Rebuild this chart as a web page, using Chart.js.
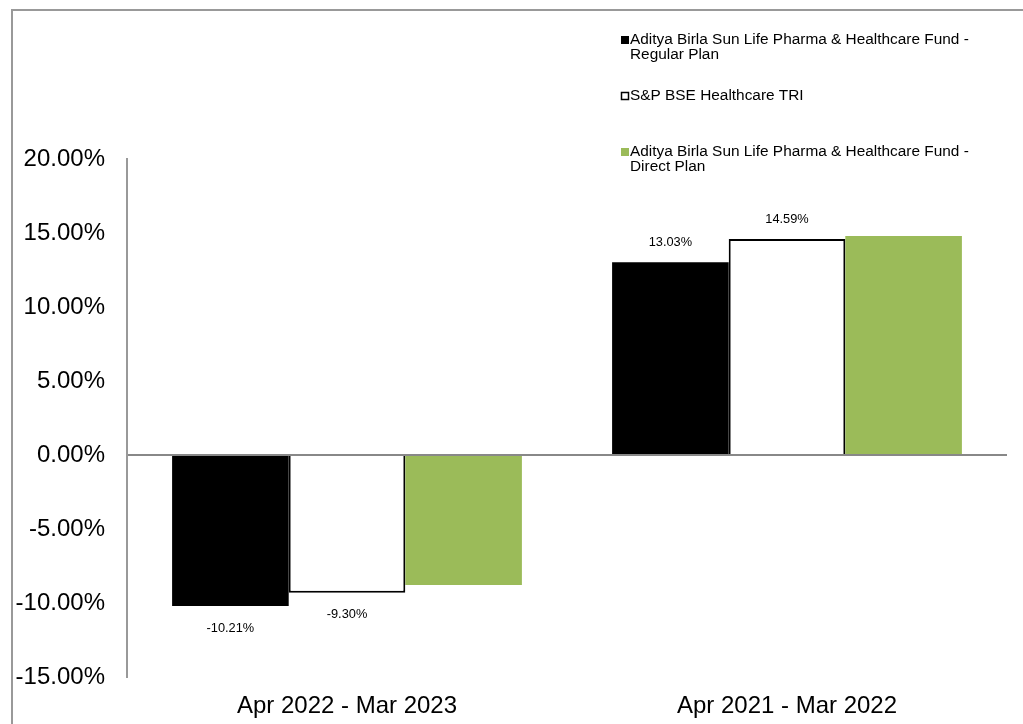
<!DOCTYPE html>
<html lang="en">
<head>
  <meta charset="UTF-8">
  <title>Aditya Birla Sun Life Pharma & Healthcare Fund</title>
  <script src="https://cdn.jsdelivr.net/npm/chart.js"></script>
  <style>
    html, body { margin: 0; padding: 0; background: #fff; }
    #wrap { width: 1023px; height: 724px; position: relative; }
  </style>
</head>
<body>
<div id="wrap"><canvas id="perf"></canvas></div>
<script>
const periods = ['Apr 2022 - Mar 2023', 'Apr 2021 - Mar 2022'];
const regularPlan = [-10.21, 13.03];
const benchmark = [-9.30, 14.59];
const directPlan = [-8.78, 14.79];
const seriesNames = [
  ['Aditya Birla Sun Life Pharma & Healthcare Fund -', 'Regular Plan'],
  ['S&P BSE Healthcare TRI'],
  ['Aditya Birla Sun Life Pharma & Healthcare Fund -', 'Direct Plan']
];

const font = "'Liberation Sans', Arial, sans-serif";

// outer frame, only top and left edges show
const framePlugin = {
  id: 'frame',
  beforeDraw(chart) {
    const c = chart.ctx;
    c.save();
    c.strokeStyle = '#999';
    c.lineWidth = 2;
    c.beginPath();
    c.moveTo(12, 724);
    c.lineTo(12, 10);
    c.lineTo(1023, 10);
    c.stroke();
    c.restore();
  }
};

// value labels on the first two series
const valueLabels = {
  id: 'valueLabels',
  afterDatasetsDraw(chart) {
    const c = chart.ctx;
    c.save();
    c.font = '12.8px ' + font;
    c.fillStyle = '#000';
    c.textAlign = 'center';
    c.textBaseline = 'middle';
    [0, 1].forEach(i => {
      const meta = chart.getDatasetMeta(i);
      meta.data.forEach((bar, j) => {
        const v = chart.data.datasets[i].data[j];
        const y = v >= 0 ? bar.y - 20 : bar.y + 22;
        c.fillText(v.toFixed(2) + '%', bar.x, y);
      });
    });
    c.restore();
  }
};

// legend drawn top right, one square marker per series
const legendBox = {
  id: 'legendBox',
  afterDraw(chart) {
    const c = chart.ctx;
    const rows = [40, 96, 152];
    c.save();
    c.font = '15.4px ' + font;
    c.textBaseline = 'middle';
    chart.data.datasets.forEach((ds, i) => {
      const y = rows[i];
      if (i === 1) {
        c.fillStyle = '#fff';
        c.fillRect(621, y - 4, 8, 8);
        c.strokeStyle = '#000';
        c.lineWidth = 1.5;
        c.strokeRect(621.5, y - 3.5, 7, 7);
      } else {
        c.fillStyle = ds.backgroundColor;
        c.fillRect(621, y - 4, 8, 8);
      }
      c.fillStyle = '#000';
      seriesNames[i].forEach((line, k) => {
        c.fillText(line, 630, y + k * 15);
      });
    });
    c.restore();
  }
};

new Chart(document.getElementById('perf'), {
  type: 'bar',
  data: {
    labels: periods,
    datasets: [
      { label: seriesNames[0].join(' '), data: regularPlan, backgroundColor: '#000', borderWidth: 0 },
      { label: seriesNames[1].join(' '), data: benchmark, backgroundColor: '#fff', borderColor: '#000', borderWidth: 2 },
      { label: seriesNames[2].join(' '), data: directPlan, backgroundColor: '#9bbb59', borderWidth: 0 }
    ]
  },
  options: {
    responsive: true,
    maintainAspectRatio: false,
    animation: false,
    layout: { padding: { left: 12, top: 159, right: 16, bottom: 0 } },
    plugins: {
      legend: { display: false },
      tooltip: { enabled: false }
    },
    datasets: { bar: { categoryPercentage: 0.795, barPercentage: 1 } },
    scales: {
      x: {
        grid: { display: false },
        border: { display: false },
        afterFit: s => { s.height = 47; },
        ticks: { color: '#000', padding: 7, font: { family: font, size: 24 } }
      },
      y: {
        min: -15,
        max: 20,
        afterFit: s => { s.width = 115; },
        border: { display: true, color: '#999', width: 2 },
        grid: {
          drawTicks: false,
          color: c => c.tick && c.tick.value === 0 ? '#888' : 'transparent',
          lineWidth: 2
        },
        ticks: {
          stepSize: 5,
          color: '#000',
          padding: 22,
          font: { family: font, size: 24 },
          callback: v => v.toFixed(2) + '%'
        }
      }
    }
  },
  plugins: [framePlugin, valueLabels, legendBox]
});
</script>
</body>
</html>
